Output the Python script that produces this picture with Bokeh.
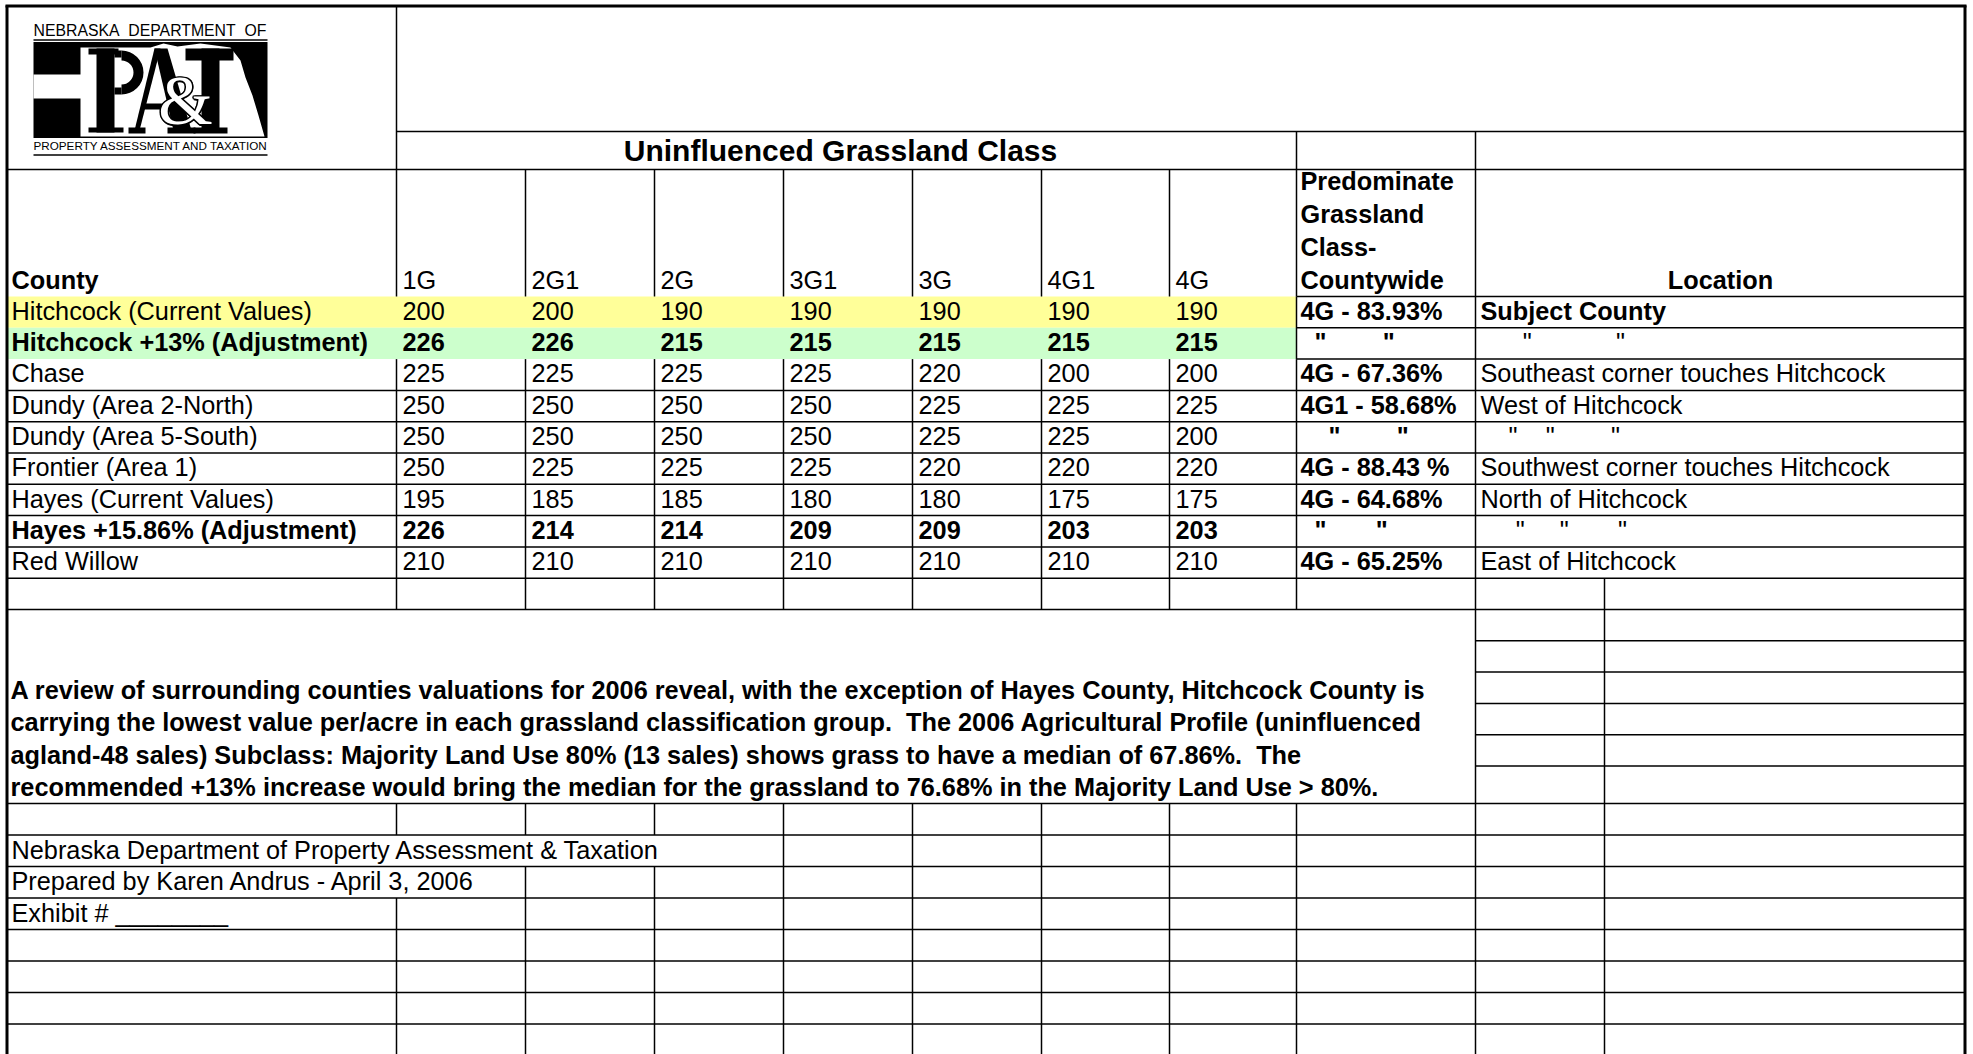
import math
from bokeh.plotting import figure
from bokeh.models import Range1d, ColumnDataSource
from bokeh.core.properties import value
from bokeh.embed import file_html
from bokeh.resources import INLINE

NB = "\u00a0"

# ---------------- data ----------------
title = "Uninfluenced Grassland Class"
county_header = "County"
classes = ["1G", "2G1", "2G", "3G1", "3G", "4G1", "4G"]
predominate_header = ["Predominate", "Grassland", "Class-", "Countywide"]
location_header = "Location"

counties = ["Hitchcock (Current Values)", "Hitchcock +13% (Adjustment)", "Chase",
            "Dundy (Area 2-North)", "Dundy (Area 5-South)", "Frontier (Area 1)",
            "Hayes (Current Values)", "Hayes +15.86% (Adjustment)", "Red Willow"]
val_1G  = [200, 226, 225, 250, 250, 250, 195, 226, 210]
val_2G1 = [200, 226, 225, 250, 250, 225, 185, 214, 210]
val_2G  = [190, 215, 225, 250, 250, 225, 185, 214, 210]
val_3G1 = [190, 215, 225, 250, 250, 225, 180, 209, 210]
val_3G  = [190, 215, 220, 225, 225, 220, 180, 209, 210]
val_4G1 = [190, 215, 200, 225, 225, 220, 175, 203, 210]
val_4G  = [190, 215, 200, 225, 200, 220, 175, 203, 210]
predominate = ["4G - 83.93%", NB*2 + '"' + NB*8 + '"', "4G - 67.36%", "4G1 - 58.68%",
               NB*4 + '"' + NB*8 + '"', "4G - 88.43 %", "4G - 64.68%",
               NB*2 + '"' + NB*7 + '"', "4G - 65.25%"]
location = ["Subject County", NB*6 + '"' + NB*12 + '"', "Southeast corner touches Hitchcock",
            "West of Hitchcock", NB*4 + '"' + NB*4 + '"' + NB*8 + '"',
            "Southwest corner touches Hitchcock", "North of Hitchcock",
            NB*5 + '"' + NB*5 + '"' + NB*7 + '"', "East of Hitchcock"]
bold_rows = [False, True, False, False, False, False, False, True, False]
row_fills = ["#FFFF99", "#CCFFCC", None, None, None, None, None, None, None]

paragraph = [
    "A review of surrounding counties valuations for 2006 reveal, with the exception of Hayes County, Hitchcock County is",
    "carrying the lowest value per/acre in each grassland classification group." + NB*2 + "The 2006 Agricultural Profile (uninfluenced",
    "agland-48 sales) Subclass: Majority Land Use 80% (13 sales) shows grass to have a median of 67.86%." + NB*2 + "The",
    "recommended +13% increase would bring the median for the grassland to 76.68% in the Majority Land Use > 80%.",
]
footer = ["Nebraska Department of Property Assessment & Taxation",
          "Prepared by Karen Andrus - April 3, 2006",
          "Exhibit #" + NB + "________"]

logo_top_text = "NEBRASKA" + NB * 2 + "DEPARTMENT" + NB * 2 + "OF"
logo_bottom_text = "PROPERTY ASSESSMENT AND TAXATION"

# ---------------- layout ----------------
W, H = 1971, 1054
X = [6, 396, 525, 654, 783, 912, 1041, 1169, 1296, 1475, 1604, 1965]
TITLE_TOP, HEADER_TOP, HEADER_BOT = 131, 169, 296
ROW_H = 31.3
row_tops = [HEADER_BOT + i * ROW_H for i in range(len(counties) + 2)]
BOX_TOP = row_tops[-1]
BOX_BOT = 803
box_lines = [BOX_TOP + k * ROW_H for k in range(1, 6)]
LOW_H = 31.5
low_lines = [BOX_BOT + k * LOW_H for k in range(0, 9)]
FS = "25.3px"
FONT = value("Liberation Sans")
BASE_OFF = 7
TDY = 10  # renderer puts the alphabetic baseline this much lower

p = figure(width=W, height=H, x_range=Range1d(0, W), y_range=Range1d(H, 0),
           output_backend="svg", toolbar_location=None, min_border=0,
           x_axis_location=None, y_axis_location=None)
p.xgrid.visible = False
p.ygrid.visible = False
p.outline_line_color = None
p.background_fill_color = "white"
p.border_fill_color = "white"

# row fills
for i, c in enumerate(row_fills):
    if c:
        p.quad(left=X[0], right=X[8], top=row_tops[i], bottom=row_tops[i + 1],
               fill_color=c, line_color=None)

# grid lines
sx0, sy0, sx1, sy1 = [], [], [], []
def vl(xs, a, b):
    for x in xs:
        sx0.append(x); sx1.append(x); sy0.append(a); sy1.append(b)
def hl(a, b, y):
    sx0.append(a); sx1.append(b); sy0.append(y); sy1.append(y)

vl([X[1]], 5, HEADER_TOP)
vl([X[8], X[9]], TITLE_TOP, HEADER_TOP)
vl(X[1:10], HEADER_TOP, HEADER_BOT)
vl([X[8], X[9]], row_tops[0], row_tops[2])
vl(X[1:10], row_tops[2], row_tops[9])
vl(X[1:11], row_tops[9], row_tops[10])
vl([X[9], X[10]], BOX_TOP, BOX_BOT)
vl(X[1:11], low_lines[0], low_lines[1])
vl(X[4:11], low_lines[1], low_lines[2])
vl(X[2:11], low_lines[2], low_lines[3])
vl(X[1:11], low_lines[3], H)

hl(X[1], X[-1], TITLE_TOP)
hl(X[0], X[-1], HEADER_TOP)
for y in row_tops[0:3]:
    hl(X[8], X[-1], y)
for y in row_tops[3:]:
    hl(X[0], X[-1], y)
for y in box_lines:
    hl(X[9], X[-1], y)
for y in low_lines[:8]:
    hl(X[0], X[-1], y)

p.segment(x0=sx0, y0=sy0, x1=sx1, y1=sy1, line_color="black", line_width=1.5)

# outer border
p.segment(x0=[6.5, 1964.5, 5], y0=[5, 5, 5.5], x1=[6.5, 1964.5, 1966], y1=[H, H, 5.5],
          line_color="black", line_width=3)

# ---------------- texts ----------------
def put(xs, ys, texts, bold=False, size=FS, align="left", font=FONT, color="black"):
    src = ColumnDataSource(dict(x=xs, y=[y - TDY for y in ys], t=texts))
    p.text(x="x", y="y", text="t", source=src, text_font=font, text_font_size=size,
           text_font_style="bold" if bold else "normal", text_align=align,
           text_baseline="alphabetic", text_color=color)

# title
put([840], [TITLE_TOP + 29], [title], bold=True, size="30px", align="center")
# headers
hb = HEADER_BOT - BASE_OFF
put([X[0] + 5], [hb], [county_header], bold=True)
put([X[i + 1] + 6 for i in range(len(classes))], [hb] * len(classes), classes)
put([X[8] + 4] * 4, [hb - 33 * (3 - k) for k in range(4)], predominate_header, bold=True)
put([(X[9] + X[11]) / 2], [hb], [location_header], bold=True, align="center")

# data rows
cols = [val_1G, val_2G1, val_2G, val_3G1, val_3G, val_4G1, val_4G]
for bold in (False, True):
    xs, ys, ts = [], [], []
    for i in range(len(counties)):
        if bold_rows[i] != bold:
            continue
        yb = row_tops[i + 1] - BASE_OFF
        xs.append(X[0] + 5); ys.append(yb); ts.append(counties[i])
        for j, col in enumerate(cols):
            xs.append(X[j + 1] + 6); ys.append(yb); ts.append(str(col[i]))
    put(xs, ys, ts, bold=bold)
put([X[8] + 4] * len(counties), [row_tops[i + 1] - BASE_OFF for i in range(len(counties))],
    predominate, bold=True)
loc_bold = [True] + [False] * (len(counties) - 1)
for bold in (False, True):
    idx = [i for i in range(len(counties)) if loc_bold[i] == bold]
    put([X[9] + 5] * len(idx), [row_tops[i + 1] - BASE_OFF for i in idx],
        [location[i] for i in idx], bold=bold)

# paragraph
put([X[0] + 4] * len(paragraph), [699 + 32.6 * k for k in range(len(paragraph))], paragraph, bold=True)

# footer
put([X[0] + 5] * len(footer), [low_lines[k + 2] - BASE_OFF for k in range(len(footer))], footer)

# ---------------- logo ----------------
LX0, LX1 = 33, 267
p.segment(x0=[LX0, LX0], y0=[39.5, 154.5], x1=[LX1, LX1], y1=[39.5, 154.5],
          line_color="black", line_width=1.5)
p.quad(left=LX0, right=LX1, top=41.5, bottom=137.5, fill_color="black", line_color=None)
ne_x = [33, 80, 80, 150, 163, 177, 200, 230, 240, 245, 252, 258, 264, 80, 80, 33]
ne_y = [74, 74, 47, 47, 43, 46, 43, 47, 60, 77, 95, 115, 136, 136, 98, 98]
p.patch(ne_x, ne_y, fill_color="white", line_color=None)
# P
p.quad(left=[96, 88, 88, 114, 114], right=[114, 118, 123, 121, 121],
       top=[48, 48, 127, 50, 87], bottom=[132, 54, 132, 57, 94],
       fill_color="black", line_color=None)
p.annular_wedge(x=121, y=72, inner_radius=12, outer_radius=22,
                start_angle=-math.pi / 2, end_angle=math.pi / 2,
                fill_color="black", line_color=None)
# A
p.patches([[154, 160, 139, 134], [154, 167, 191, 173]],
          [[48, 48, 130, 130], [48, 48, 130, 130]], fill_color="black", line_color=None)
p.quad(left=[143, 128, 167], right=[178, 145, 195], top=[103, 127, 127], bottom=[109, 133, 133],
       fill_color="black", line_color=None)
# T
p.quad(left=[185, 201, 193], right=[233, 219, 227], top=[48, 48, 127], bottom=[60, 132, 133],
       fill_color="black", line_color=None)
# & (outlined)
amp_font = value("Liberation Serif")
offs = [(-1.5, 0), (1.5, 0), (0, -1.5), (0, 1.5), (-1.1, -1.1), (1.1, 1.1), (-1.1, 1.1), (1.1, -1.1)]
put([185 + dx for dx, dy in offs], [110 + dy for dx, dy in offs], ["&"] * len(offs),
    size="70px", align="center", font=amp_font)
put([185], [110], ["&"], size="70px", align="center", font=amp_font, color="white")
put([LX0], [40], [logo_top_text], size="15.8px")
put([LX0], [155], [logo_bottom_text], size="11.7px")

open("out.html", "w").write(file_html(p, INLINE))
